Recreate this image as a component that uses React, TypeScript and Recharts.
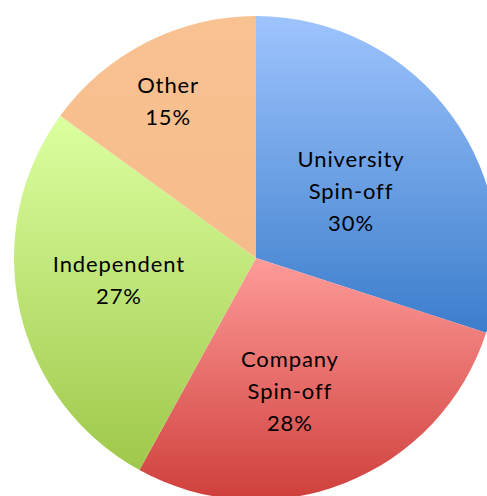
import React from 'react';
import { PieChart, Pie, Cell } from 'recharts';

const categories = ['University\nSpin-off', 'Company\nSpin-off', 'Independent', 'Other'];
const shares = [30, 28, 27, 15];
const percentLabels = ['30%', '28%', '27%', '15%'];

const gradTop = ['#9ec4fd', '#fe9b99', '#dcffa0', '#f9c292'];
const gradBottom = ['#3b7dcc', '#cf3f3b', '#9fc84b', '#f6bb8a'];
// label placement: radius fraction and angle shift (degrees)
const labelRadius = [0.483, 0.563, 0.573, 0.747];
const labelShift = [-0.4, -7.2, -3.9, 2.1];

const data = categories.map((name, i) => ({ name, value: shares[i], pct: percentLabels[i] }));

const RAD = Math.PI / 180;

const renderLabel = (props: any) => {
  const { cx, cy, midAngle, outerRadius, index } = props;
  const a = (midAngle + labelShift[index]) * RAD;
  const r = outerRadius * labelRadius[index];
  const x = cx + r * Math.cos(a);
  const y = cy - r * Math.sin(a);
  const lines = [...categories[index].split('\n'), percentLabels[index]];
  const lh = 32;
  const y0 = y - ((lines.length - 1) * lh) / 2;
  return (
    <text
      x={x}
      y={y0}
      textAnchor="middle"
      dominantBaseline="central"
      fill="#000"
      fontSize={22}
      letterSpacing={0.9}
      fontFamily="Lato, 'Open Sans', sans-serif"
    >
      {lines.map((l, i) => (
        <tspan key={i} x={x} y={y0 + i * lh} dominantBaseline="central">
          {l}
        </tspan>
      ))}
    </text>
  );
};

export default function App() {
  return (
    <div style={{ position: 'absolute', left: 0, top: 0, width: 487, height: 496, overflow: 'hidden', background: '#fff' }}>
      <PieChart width={487} height={496} margin={{ top: 0, right: 0, bottom: 0, left: 0 }}>
        <defs>
          {gradTop.map((c, i) => (
            <linearGradient key={i} id={`g${i}`} x1="0" y1="0" x2="0" y2="1">
              <stop offset="0%" stopColor={c} />
              <stop offset="100%" stopColor={gradBottom[i]} />
            </linearGradient>
          ))}
        </defs>
        <Pie
          data={data}
          dataKey="value"
          nameKey="name"
          cx={256}
          cy={258}
          outerRadius={242}
          startAngle={90}
          endAngle={-270}
          stroke="none"
          isAnimationActive={false}
          labelLine={false}
          label={renderLabel}
        >
          {data.map((_, i) => (
            <Cell key={i} fill={`url(#g${i})`} />
          ))}
        </Pie>
      </PieChart>
    </div>
  );
}
